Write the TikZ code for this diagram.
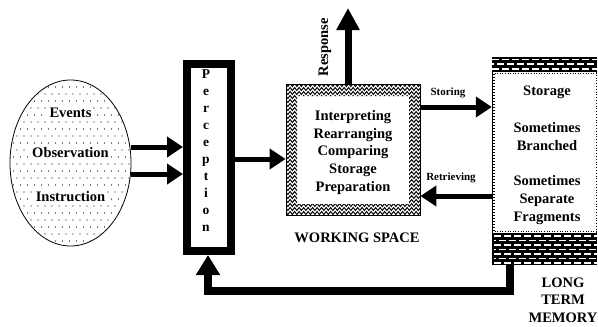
\documentclass[tikz,border=0pt]{standalone}
\usepackage{fontspec}
\setmainfont{Liberation Serif}
\usetikzlibrary{arrows.meta,shapes.geometric,decorations.pathmorphing}
\begin{document}
\begin{tikzpicture}[x=1pt,y=-1pt,
  txt/.style={font=\bfseries\fontsize{14.5}{17.6}\selectfont, inner sep=0pt, align=center},
  small/.style={font=\bfseries\fontsize{11}{13}\selectfont, inner sep=0pt},
  letter/.style={font=\bfseries\fontsize{13.5}{14}\selectfont, inner sep=0pt, anchor=base},
  thinarrow/.style={line width=5pt, -{Triangle[length=16pt,width=20pt]}},
  fatarrow/.style={line width=7.5pt, line join=miter, -{Triangle[length=20pt,width=23pt]}},
  zz/.style={line width=0.95pt, decorate, decoration={zigzag, segment length=4.5pt, amplitude=1.5pt}},
  brick/.style={white, line width=1.7pt},
]
\useasboundingbox (0,0) rectangle (598,327);

% ---- source ellipse ----
\node[draw, ellipse, line width=0.8pt, minimum width=121pt, minimum height=166pt, inner sep=0pt] (src) at (70.5,163) {};
\begin{scope}
  \clip (70.5,163) ellipse [x radius=60, y radius=82.5];
  \foreach \r in {0,...,24} {
    \foreach \c in {0,...,18} {
      \fill ({10+\c*7+mod(\r,2)*3.5}, {80+\r*7}) circle (0.7pt);
    }
  }
\end{scope}
\node[txt, fill=white, inner sep=2pt] (ev) at (70.5,113) {Events};
\node[txt, fill=white, inner sep=2pt] (ob) at (70.5,153) {Observation};
\node[txt, fill=white, inner sep=2pt] (in) at (70.5,197) {Instruction};

% ---- perception ----
\node[draw, line width=8pt, minimum width=44pt, minimum height=187pt, inner sep=0pt, fill=white] (perc) at (209,157.5) {};
\foreach \ch [count=\i] in {P,e,r,c,e,p,t,i,o,n}
  \node[letter] (pl\i) at (206, {78+(\i-1)*17}) {\ch};

% ---- working space ----
\node[draw, line width=0.8pt, minimum width=134pt, minimum height=131pt, inner sep=0pt] (ws) at (353,149.5) {};
\begin{scope}[even odd rule]
  \clip (286,84) rectangle (420,215) (297,96) rectangle (409,204);
  \foreach \yy in {85,89,...,216}
    \draw[zz] (280,\yy) -- (426,\yy);
\end{scope}
\node[txt] (wst) at (353,152.5) {Interpreting\\Rearranging\\Comparing\\Storage\\Preparation};
\node[txt] (wsl) at (357,238) {WORKING SPACE};

% ---- long term memory ----
\node[minimum width=105pt, minimum height=208pt, inner sep=0pt] (ltm) at (544.5,161) {};
\fill (492,57) rectangle (597,72);
\fill (492,233) rectangle (597,265);
\foreach \yy in {59.5,69}
  \draw[brick, dash pattern=on 7pt off 3pt] (492,\yy) -- (597,\yy);
\foreach \yy in {64.25}
  \draw[brick, dash pattern=on 7pt off 3pt, dash phase=5pt] (492,\yy) -- (597,\yy);
\foreach \yy in {236,245,254,263}
  \draw[brick, dash pattern=on 7pt off 3pt] (494,\yy) -- (597,\yy);
\foreach \yy in {240.5,249.5,258.5}
  \draw[brick, dash pattern=on 7pt off 3pt, dash phase=5pt] (494,\yy) -- (597,\yy);
\draw[line width=0.8pt] (492.4,72) -- (492.4,233);
\foreach \yy in {74,77,...,231}
  \draw[line width=0.6pt] (492.4,\yy) -- ++(3,0);
\draw[line width=0.8pt, dotted] (596.6,72) -- (596.6,233);
\draw[line width=0.6pt, dotted] (492,73.6) -- (597,73.6);
\draw[line width=0.6pt, dotted] (492,231.6) -- (597,231.6);

\node[txt] (l1) at (547,92) {Storage};
\node[txt] (l2) at (547,136.5) {Sometimes\\Branched};
\node[txt] (l3) at (547,200) {Sometimes\\Separate\\Fragments};
\node[txt] (ltml) at (563,300) {LONG\\TERM\\MEMORY};

% ---- connectors ----
\draw[thinarrow] ([yshift=16pt]src.east) -- ([yshift=10.5pt]perc.west);
\draw[thinarrow] ([yshift=-11pt]src.east) -- ([yshift=-16.5pt]perc.west);
\draw[thinarrow] ([yshift=-1.5pt]perc.east) -- ([yshift=-9.5pt]ws.west);
\coordinate (resp) at (348,8);
\draw[line width=7pt, -{Triangle[length=22pt,width=22pt]}] ([xshift=-5pt]ws.north) -- (resp);
\node[txt, rotate=90] (rl) at (325,47) {Response};
\draw[thinarrow] ([yshift=42.5pt]ws.east) -- ([yshift=54pt]ltm.west);
\node[small] (stl) at (448,93) {Storing};
\draw[thinarrow] ([yshift=-35pt]ltm.west) -- ([yshift=-46.5pt]ws.east);
\node[small] (rtl) at (451,178) {Retrieving};
\draw[fatarrow] ([xshift=-34.5pt]ltm.south) -- ++(0,26) -| ([xshift=-1pt]perc.south);
\end{tikzpicture}
\end{document}
